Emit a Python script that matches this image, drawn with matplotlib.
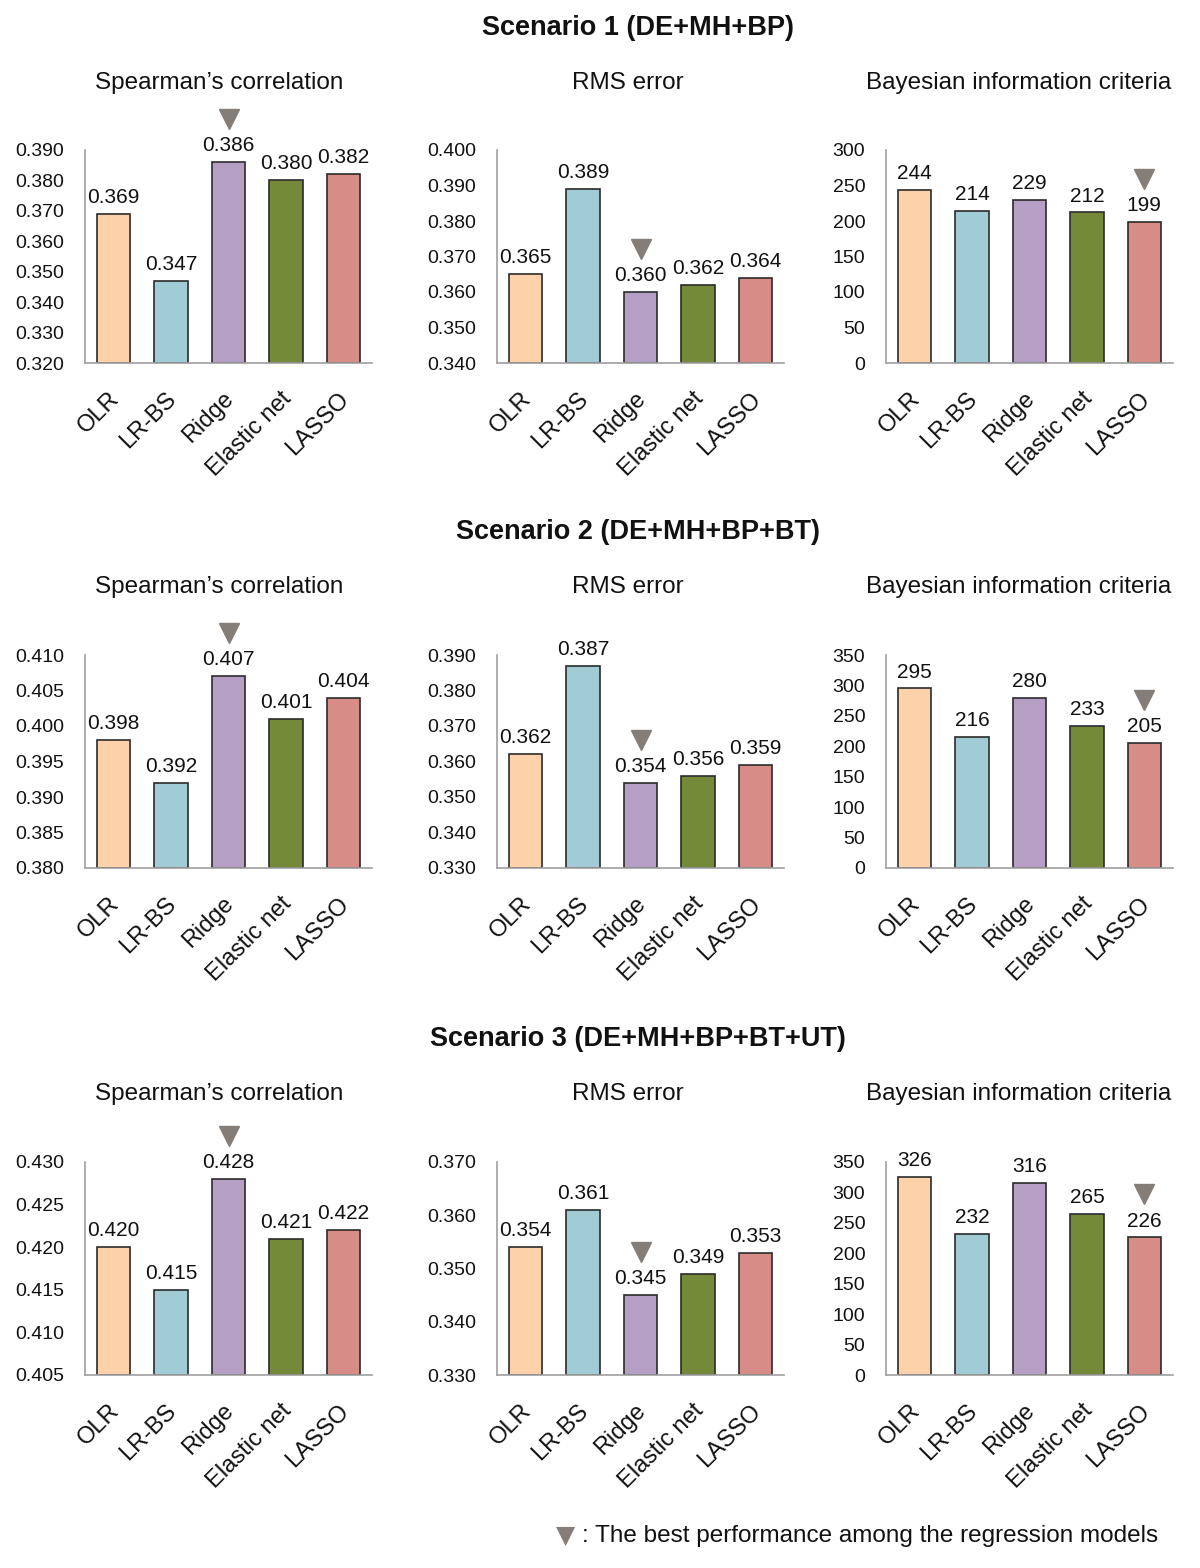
import matplotlib
matplotlib.use('Agg')
import matplotlib.pyplot as plt
import matplotlib.transforms as mtransforms
import numpy as np

plt.rcParams['font.family'] = ['Liberation Sans', 'DejaVu Sans']

#
# Data
models = ['OLR', 'LR-BS', 'Ridge', 'Elastic net', 'LASSO']
colors = ['#FDD1AA', '#A2CCD5', '#B69FC5', '#758A38', '#D78C88']

scenarios = ['Scenario 1 (DE+MH+BP)', 'Scenario 2 (DE+MH+BP+BT)',
             'Scenario 3 (DE+MH+BP+BT+UT)']
metrics = ["Spearman\u2019s correlation", 'RMS error', 'Bayesian information criteria']

s1_spearman = [0.369, 0.347, 0.386, 0.380, 0.382]
s1_rms = [0.365, 0.389, 0.360, 0.362, 0.364]
s1_bic = [244, 214, 229, 212, 199]

s2_spearman = [0.398, 0.392, 0.407, 0.401, 0.404]
s2_rms = [0.362, 0.387, 0.354, 0.356, 0.359]
s2_bic = [295, 216, 280, 233, 205]

s3_spearman = [0.420, 0.415, 0.428, 0.421, 0.422]
s3_rms = [0.354, 0.361, 0.345, 0.349, 0.353]
s3_bic = [326, 232, 316, 265, 226]

values = [[s1_spearman, s1_rms, s1_bic],
          [s2_spearman, s2_rms, s2_bic],
          [s3_spearman, s3_rms, s3_bic]]

# best model per metric (index into models)
best = [2, 2, 4]

ylims = [[(0.320, 0.390, 0.010), (0.340, 0.400, 0.010), (0, 300, 50)],
         [(0.380, 0.410, 0.005), (0.330, 0.390, 0.010), (0, 350, 50)],
         [(0.405, 0.430, 0.005), (0.330, 0.370, 0.010), (0, 350, 50)]]

fig = plt.figure(figsize=(12, 15.68), dpi=100)

lefts = [85 / 1200, 497 / 1200, 886 / 1200]
width = 287 / 1200
bottoms = [1 - 363 / 1568, 1 - 868 / 1568, 1 - 1375 / 1568]
height = 213 / 1568
title_y = [28, 532, 1039]
sub_x = [219, 628, 1019]

x = np.arange(len(models))
shift = mtransforms.ScaledTranslation(-6 / 100, 0, fig.dpi_scale_trans)

for r in range(3):
    fig.text(0.532, 1 - title_y[r] / 1568, scenarios[r], ha='center', va='center',
             fontsize=19.5, fontweight='bold', color='#111111')
    for c in range(3):
        ax = fig.add_axes([lefts[c], bottoms[r], width, height])
        vals = values[r][c]
        lo, hi, step = ylims[r][c]
        ax.bar(x, np.array(vals) - lo, bottom=lo, width=0.58, color=colors,
               edgecolor='#2b2b2b', linewidth=1.2, zorder=2)
        ax.set_xlim(-0.5, 4.5)
        ax.set_ylim(lo, hi)
        ticks = np.arange(lo, hi + step / 2, step)
        ax.set_yticks(ticks)
        if c == 2:
            ax.set_yticklabels(['%d' % t for t in ticks])
        else:
            ax.set_yticklabels(['%.3f' % t for t in ticks])
        ax.set_xticks(x)
        ax.set_xticklabels(models, rotation=45, ha='right', rotation_mode='anchor')
        ax.tick_params(axis='both', length=0, colors='#111111')
        ax.tick_params(axis='x', pad=18, labelsize=17)
        ax.tick_params(axis='y', pad=15, labelsize=14)
        for lbl in ax.get_xticklabels():
            lbl.set_transform(lbl.get_transform() + shift)
        for s in ['top', 'right']:
            ax.spines[s].set_visible(False)
        for s in ['left', 'bottom']:
            ax.spines[s].set_color('#a0a0a0')
            ax.spines[s].set_linewidth(1.2)
        ax.patch.set_alpha(0)

        for i, v in enumerate(vals):
            lab = '%d' % v if c == 2 else '%.3f' % v
            ax.annotate(lab, (i, v), xytext=(0, 5), textcoords='offset points',
                        ha='center', va='bottom', fontsize=15, color='#111111')
        b = best[c]
        trans = mtransforms.offset_copy(ax.transData, fig=fig, x=0, y=31, units='points')
        ax.plot([b], [vals[b]], marker='v', markersize=14, color='#857d77',
                transform=trans, clip_on=False, zorder=3)

        fig.text(sub_x[c] / 1200, 1 - (title_y[r] + 55) / 1568, metrics[c],
                 ha='center', va='center', fontsize=17.5, color='#111111')

# legend note at the bottom
fig.text(566 / 1200, 1 - 1536 / 1568, '\u25BC', ha='center', va='center',
         fontsize=18, color='#857d77', family=['DejaVu Sans'])
fig.text(582 / 1200, 1 - 1536 / 1568, ': The best performance among the regression models',
         ha='left', va='center', fontsize=17.5, color='#111111')

fig.savefig('out.png', dpi=100)
